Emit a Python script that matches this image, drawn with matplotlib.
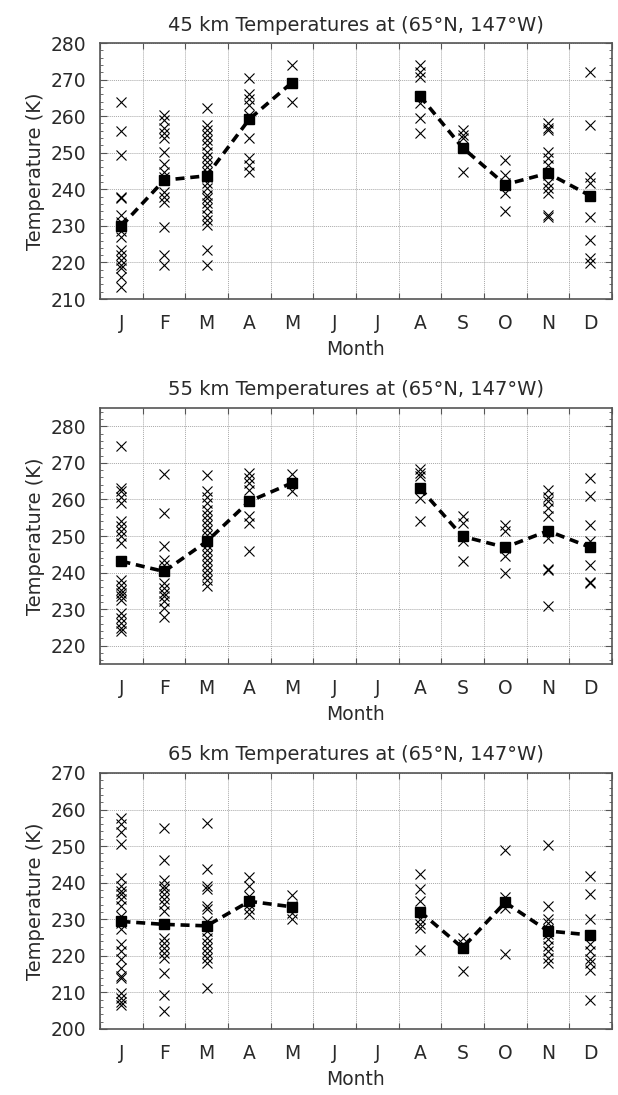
import numpy as np
import matplotlib
matplotlib.use("Agg")
import matplotlib.pyplot as plt
from matplotlib.ticker import MultipleLocator

months = ["J", "F", "M", "A", "M", "J", "J", "A", "S", "O", "N", "D"]
nan = np.nan

# 45 km individual observations per month (K)
obs45 = [
    [264, 256, 249.5, 238, 237.5, 233, 231, 230, 228.5, 227, 223.5, 222, 220.7, 219.4, 218.5, 216, 213.3],
    [260.3, 258.9, 256.8, 255.5, 254.1, 250.3, 246.8, 244.8, 243.5, 239.4, 238, 236.6, 229.8, 222, 219.4],
    [262.1, 257.7, 256.2, 254.8, 253.5, 252.1, 250.3, 248.9, 247.5, 246.2, 244.8, 243.5, 241.6, 240.3,
     238.5, 237.5, 236.2, 234.8, 233, 231.6, 230.3, 223.5, 219.4],
    [270.5, 266.2, 264.8, 263, 260.3, 253.9, 248.5, 246.6, 244.8],
    [274.1, 263.9],
    [], [],
    [273.9, 272.1, 270.7, 263.5, 259.4, 255.3],
    [256.2, 254.8, 253.9, 244.8],
    [248, 244, 241.6, 238.9, 234.1],
    [258, 256.8, 256.2, 250.3, 248.5, 246.6, 244, 241.6, 240.3, 238.9, 233, 232.5],
    [272.1, 257.5, 243.5, 241.6, 232.5, 226.2, 221.2, 219.8],
]
mean45 = [230, 242.5, 243.7, 259.2, 269.2, nan, nan, 265.5, 251.4, 241.3, 244.4, 238.2]

# 55 km individual observations per month (K)
obs55 = [
    [274.5, 263.1, 262.2, 260.8, 259, 254, 252.6, 251.3, 249.9, 248.1, 238.1, 236.7, 235.3, 234.4,
     233.5, 232.6, 228.9, 227.6, 226.2, 224.8, 223.9],
    [267, 256.3, 247.3, 243.5, 242.2, 240.8, 237.1, 235.8, 234.4, 233.5, 232.1, 230.3, 227.8],
    [266.8, 262.2, 260.8, 259, 257.2, 255.8, 254.5, 253.1, 251.7, 250.4, 249, 247.6, 246.3, 244.9,
     243.5, 242.2, 240.8, 239.4, 238.1, 236.2],
    [267.2, 265.9, 264.5, 262.7, 259.5, 255.4, 253.5, 245.8],
    [267, 262.2],
    [], [],
    [268.3, 267.2, 266.3, 260.4, 254],
    [255.4, 253.5, 248.5, 243.3],
    [253.1, 251.3, 246.7, 244.4, 239.9],
    [262.7, 260.8, 259.5, 257.6, 255.4, 249.4, 241, 240.6, 230.8],
    [265.9, 261, 253.1, 248.5, 242.2, 237.4, 237.1],
]
mean55 = [243.1, 240.3, 248.5, 259.5, 264.5, nan, nan, 263.1, 249.9, 246.9, 251.4, 246.9]

# 65 km individual observations per month (K)
obs65 = [
    [257.7, 256.1, 253.9, 250.6, 241.2, 239.2, 237.8, 236.9, 235.5, 233.7, 231, 229.1, 227.2, 223.1,
     221.3, 219, 216.7, 214.4, 213.9, 209.8, 208.4, 207.5, 206.6],
    [255, 246.1, 240.6, 239.2, 238.3, 236.9, 235.5, 234.1, 232.3, 225, 223.6, 222.2, 220.8, 219.4,
     215.3, 209.4, 205],
    [256.4, 243.8, 239.2, 238.3, 233.7, 232.8, 229.5, 226.8, 225, 223.6, 222.2, 220.8, 219.4, 218.1, 211.2],
    [241.5, 239.2, 236.4, 234.1, 232.8, 231.4],
    [236.7, 233.7, 231.8, 230.2],
    [], [],
    [242.4, 238.4, 235, 230, 228.6, 227.7, 221.7],
    [225, 223.1, 215.8],
    [248.8, 236, 234.6, 233.2, 220.6],
    [250.2, 233.7, 230, 229.1, 227.2, 225.9, 224.5, 222.7, 221.3, 219.4, 218.1],
    [241.7, 236.9, 230.2, 223.1, 221.3, 219, 218.1, 216.2, 208],
]
mean65 = [229.4, 228.6, 228.2, 234.9, 233.4, nan, nan, 232.1, 222.2, 234.6, 226.8, 225.7]

panels = [
    ("45 km Temperatures at (65\u00b0N, 147\u00b0W)", obs45, mean45, (210, 280)),
    ("55 km Temperatures at (65\u00b0N, 147\u00b0W)", obs55, mean55, (215, 285)),
    ("65 km Temperatures at (65\u00b0N, 147\u00b0W)", obs65, mean65, (200, 270)),
]

plt.rcParams['font.family'] = ['DejaVu Sans']
TXT = '#2a2a2a'

fig = plt.figure(figsize=(6.18, 10.95), dpi=100)
tops = [0.9607, 0.6274, 0.2941]
h = 0.2338
left, width = 0.162, 0.828

centers = np.arange(12) + 0.5
for (title, obs, mean, ylim), top in zip(panels, tops):
    ax = fig.add_axes([left, top - h, width, h])
    for i, vals in enumerate(obs):
        if vals:
            ax.plot([centers[i]] * len(vals), vals, linestyle='none', marker='x',
                    markersize=6.5, markeredgewidth=0.8, color='black', zorder=3)
    ax.plot(centers, mean, linestyle=(0, (2.5, 1.6)), linewidth=2.6, color='black', zorder=4)
    ax.plot(centers, mean, linestyle='none', marker='s', markersize=6.5, color='black', zorder=5)

    ax.set_xlim(0, 12)
    ax.set_ylim(*ylim)
    ax.xaxis.set_major_locator(MultipleLocator(1))
    ax.set_xticks(centers, minor=True)
    ax.set_xticklabels([], minor=False)
    ax.set_xticklabels(months, minor=True)
    ax.tick_params(axis='x', which='major', direction='in', length=4, top=True, bottom=True,
                   color='#555555', width=0.8)
    ax.tick_params(axis='x', which='minor', length=0, pad=11, labelsize=13.5, labelcolor=TXT)
    ax.yaxis.set_major_locator(MultipleLocator(10))
    ax.yaxis.set_minor_locator(MultipleLocator(2))
    ax.tick_params(axis='y', which='major', direction='in', length=5, left=True, right=True,
                   labelsize=13.5, labelcolor=TXT, pad=10, color='#555555', width=0.8)
    ax.tick_params(axis='y', which='minor', direction='in', length=2.5, left=True, right=True,
                   color='#555555', width=0.6)
    ax.grid(True, which='major', linestyle=(0, (1, 1)), linewidth=0.7, color='#a8a8a8')
    for s in ax.spines.values():
        s.set_color('#555555')
        s.set_linewidth(1.2)
    ax.set_title(title, fontsize=14, color=TXT, pad=9)
    ax.set_ylabel('Temperature (K)', fontsize=14, color=TXT, labelpad=4)
    ax.set_xlabel('Month', fontsize=13.5, color=TXT, labelpad=5)

fig.savefig('out.png', dpi=100)
